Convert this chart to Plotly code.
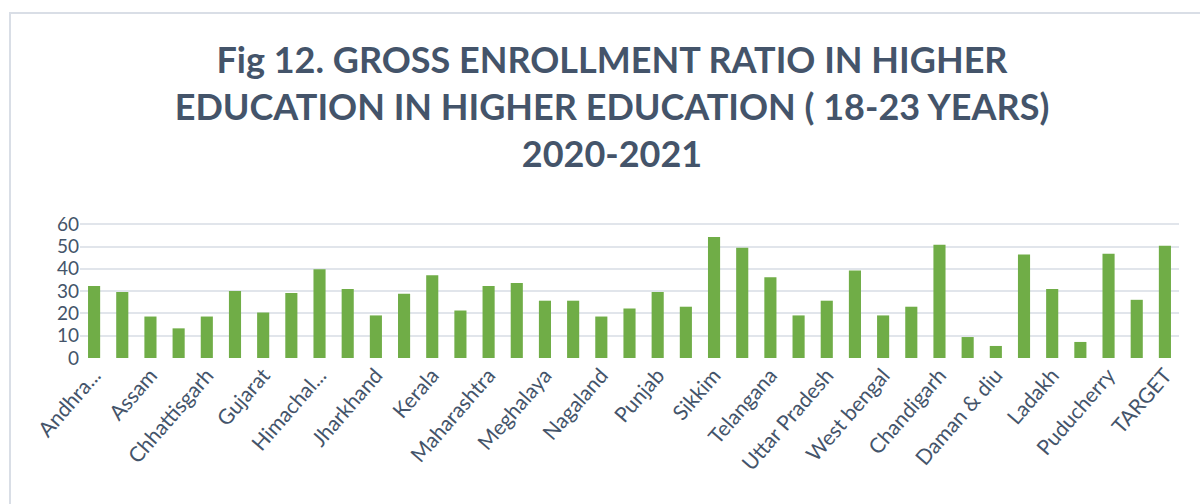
import plotly.graph_objects as go

categories = [
    "Andhra Pradesh", "Arunachal Pradesh", "Assam", "Bihar", "Chhattisgarh", "Goa",
    "Gujarat", "Haryana", "Himachal Pradesh", "Jammu & Kashmir", "Jharkhand", "Karnataka",
    "Kerala", "Madhya Pradesh", "Maharashtra", "Manipur", "Meghalaya", "Mizoram",
    "Nagaland", "Odisha", "Punjab", "Rajasthan", "Sikkim", "Tamil Nadu",
    "Telangana", "Tripura", "Uttar Pradesh", "Uttarakhand", "West bengal", "Andaman & Nicobar",
    "Chandigarh", "Dadra & Nagar Haveli", "Daman & diu", "Delhi", "Ladakh", "Lakshadweep",
    "Puducherry", "All India", "TARGET",
]
values = [
    32.3, 29.6, 18.6, 13.3, 18.6, 30.1,
    20.4, 29.2, 39.8, 31.0, 19.1, 28.8,
    37.1, 21.3, 32.3, 33.6, 25.7, 25.7,
    18.6, 22.2, 29.6, 23.0, 54.3, 49.4,
    36.2, 19.1, 25.7, 39.3, 19.1, 23.0,
    50.8, 9.4, 5.4, 46.4, 31.0, 7.2,
    46.8, 26.1, 50.3,
]
tick_vals = categories[::2]
tick_text = [
    "Andhra...", "Assam", "Chhattisgarh", "Gujarat", "Himachal...", "Jharkhand",
    "Kerala", "Maharashtra", "Meghalaya", "Nagaland", "Punjab", "Sikkim",
    "Telangana", "Uttar Pradesh", "West bengal", "Chandigarh", "Daman & diu", "Ladakh",
    "Puducherry", "TARGET",
]
y_ticks = [0, 10, 20, 30, 40, 50, 60]

text_color = "#44546A"
font_family = "Lato, 'Open Sans', sans-serif"

fig = go.Figure()
fig.add_trace(go.Bar(
    x=categories, y=values,
    marker=dict(color="#70AD47", line=dict(width=0)),
    hoverinfo="x+y",
))

fig.update_layout(
    width=1200, height=504,
    paper_bgcolor="white", plot_bgcolor="white",
    margin=dict(l=80, r=21, t=222, b=146),
    bargap=0.57,
    showlegend=False,
    title=dict(
        text="Fig 12. GROSS ENROLLMENT RATIO IN HIGHER<br>EDUCATION IN HIGHER EDUCATION ( 18-23 YEARS)<br>2020-2021",
        x=0.51, xanchor="center", xref="container",
        y=0.855, yanchor="top", yref="container",
        font=dict(family=font_family, size=36, color=text_color, weight="bold"),
    ),
    xaxis=dict(
        tickmode="array", tickvals=tick_vals, ticktext=tick_text,
        tickangle=-49,
        tickfont=dict(family=font_family, size=21, color=text_color),
        showgrid=False, showline=False, ticks="",
    ),
    yaxis=dict(
        range=[0, 61], tickmode="array", tickvals=y_ticks,
        tickfont=dict(family=font_family, size=19, color=text_color),
        showgrid=True, gridcolor="#E1E5EB", gridwidth=2,
        zeroline=False, showline=False, ticks="",
    ),
    shapes=[dict(
        type="rect", xref="paper", yref="paper",
        x0=-0.0637, x1=1.2, y0=-2.0, y1=2.537,
        line=dict(color="#D9DEE6", width=2), fillcolor="rgba(0,0,0,0)",
        layer="below",
    )],
)

fig.write_html("out.html")
